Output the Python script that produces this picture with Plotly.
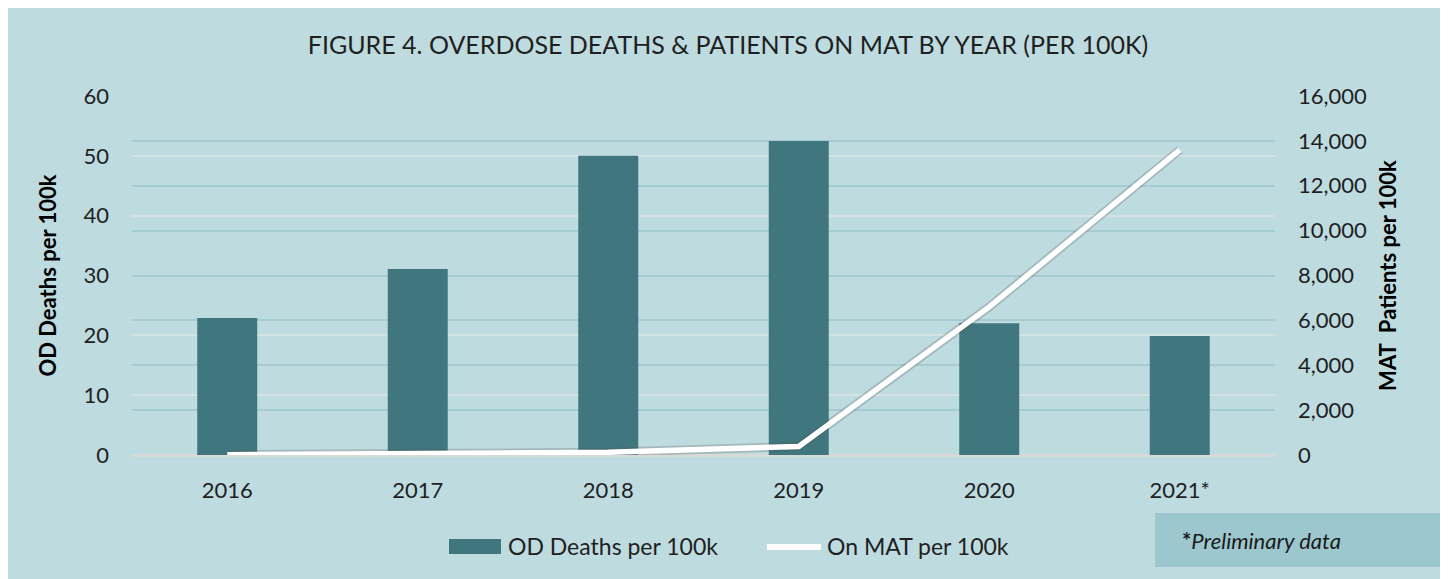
import plotly.graph_objects as go

years = ["2016", "2017", "2018", "2019", "2020", "2021*"]
od_deaths = [22.9, 31.1, 50.0, 52.5, 22.0, 19.9]
on_mat = [10, 40, 120, 380, 6600, 13600]

BG = "#BEDBDF"
BAR = "#40777F"
FONT = "Lato, Carlito, Calibri, sans-serif"
TXT = "#1f1f1f"

# plot area in screen pixels (page has an 8px body margin)
PX0, PX1, PY0, PY1 = 132, 1275, 96, 455


def px(x):
    return (x - PX0) / (PX1 - PX0)


def py(y):
    return (PY1 - y) / (PY1 - PY0)


fig = go.Figure()
fig.add_trace(go.Bar(x=years, y=od_deaths, name="OD Deaths per 100k",
                     marker=dict(color=BAR, line=dict(width=0)), yaxis="y",
                     showlegend=False))
# soft shadow under the line
fig.add_trace(go.Scatter(x=years, y=on_mat, mode="lines", yaxis="y2",
                         line=dict(color="rgba(80,80,80,0.25)", width=9),
                         showlegend=False, hoverinfo="skip"))
fig.add_trace(go.Scatter(x=years, y=on_mat, mode="lines", name="On MAT per 100k",
                         line=dict(color="white", width=5.5), yaxis="y2",
                         showlegend=False))

fig.update_layout(
    width=1440, height=571,
    margin=dict(l=PX0 - 8, r=1440 - (PX1 - 8), t=PY0 - 8, b=571 - (PY1 - 8)),
    paper_bgcolor=BG, plot_bgcolor=BG,
    font=dict(family=FONT, color=TXT, size=22),
    title=dict(text="FIGURE 4. OVERDOSE DEATHS & PATIENTS ON MAT BY YEAR (PER 100K)",
               x=0.5, xanchor="center", y=1 - 37 / 571, yanchor="middle",
               font=dict(size=25, color=TXT, family=FONT)),
    bargap=0.685,
    showlegend=False,
    xaxis=dict(type="category", showgrid=False, zeroline=False, showline=False,
               ticks="", tickfont=dict(size=22, color=TXT), ticklabelstandoff=20),
    yaxis=dict(range=[0, 60], dtick=10, showgrid=True, gridcolor="#D5E2E4", gridwidth=1.5,
               zeroline=True, zerolinecolor="#D9D9D9", zerolinewidth=2.5,
               tickfont=dict(size=22, color=TXT),
               title=dict(text="<b>OD Deaths per 100k</b>", font=dict(size=22, color="#000000"),
                          standoff=20),
               ticklabelstandoff=22),
    yaxis2=dict(range=[0, 16000], dtick=2000, overlaying="y", side="right",
                showgrid=True, gridcolor="#A6CCD2", gridwidth=1.5, zeroline=False,
                tickformat=",", tickfont=dict(size=22, color=TXT),
                title=dict(text="<b>MAT  Patients per 100k</b>", font=dict(size=22, color="#000000"),
                           standoff=14),
                ticklabelstandoff=22),
    shapes=[
        # preliminary-data box
        dict(type="rect", xref="paper", yref="paper", layer="above",
             x0=px(1155), x1=px(1445), y0=py(567), y1=py(513),
             fillcolor="#9DC7CE", line=dict(width=0)),
        # legend swatches
        dict(type="rect", xref="paper", yref="paper", layer="above",
             x0=px(449), x1=px(501), y0=py(554), y1=py(539),
             fillcolor=BAR, line=dict(width=0)),
        dict(type="line", xref="paper", yref="paper", layer="above",
             x0=px(767), x1=px(821), y0=py(547), y1=py(547),
             line=dict(color="white", width=6)),
    ],
    annotations=[
        dict(text="<b>*</b><i>Preliminary data</i>", xref="paper", yref="paper",
             x=px(1180), xanchor="left", y=py(540), yanchor="middle",
             showarrow=False, font=dict(size=22, color="#1a1a1a")),
        dict(text="OD Deaths per 100k", xref="paper", yref="paper",
             x=px(506), xanchor="left", y=py(546), yanchor="middle",
             showarrow=False, font=dict(size=23, color=TXT)),
        dict(text="On MAT per 100k", xref="paper", yref="paper",
             x=px(825), xanchor="left", y=py(546), yanchor="middle",
             showarrow=False, font=dict(size=23, color=TXT)),
    ],
)

fig.write_html("out.html")
